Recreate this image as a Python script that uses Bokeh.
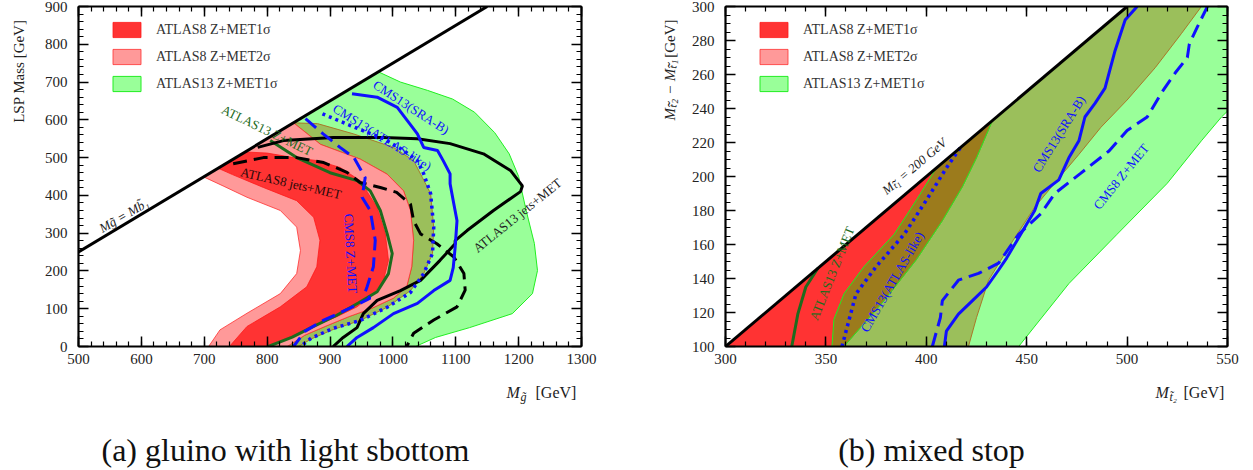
import math
from bokeh.plotting import figure
from bokeh.layouts import row, column
from bokeh.models import Range1d, LinearAxis, FixedTicker, Label, Legend, LegendItem
from bokeh.embed import file_html
from bokeh.resources import INLINE

SERIF = "Liberation Serif"

# ================= panel (a): gluino with light sbottom =================
a_diag_x = [500, 1150]
a_diag_y = [250, 900]

a_pink = [(699,449),(842,592),(885,535),(948,496),(991,456),(1017,412),(1028,360),(1033,281),
          (1030,211),(1022,158),(1001,128),(965,100),(930,79),(895,55),(860,30),(832,0),(707,0),
          (725,44),(768,88),(821,140),(847,193),(853,254),(847,316),(821,360),(768,395),(730,425)]
a_red = [(722,472),(765,515),(800,512),(842,500),(880,492),(916,474),(948,439),(975,368),(988,298),
         (993,228),(985,175),(969,140),(943,105),(911,79),(874,53),(837,26),(802,0),(740,0),(768,53),
         (821,105),(863,158),(879,211),(884,281),(874,342),(847,386),(794,421),(745,455)]
a_green = [(842,592),(977,727),(1012,700),(1055,678),(1095,655),(1130,620),(1162,566),(1185,510),
           (1200,450),(1212,360),(1225,273),(1230,201),(1222,140),(1190,87),(1122,50),(1068,24),
           (1036,0),(832,0),(860,30),(895,55),(930,79),(965,100),(1001,128),(1022,158),(1030,211),
           (1033,281),(1028,360),(1017,412),(991,456),(948,496),(885,535)]
a_olive = [(842,592),(880,590),(937,563),(1001,527),(1033,492),(1047,447),(1060,405),(1065,315),
           (1063,246),(1049,193),(1028,148),(991,104),(948,69),(905,45),(870,20),(850,0),(832,0),
           (860,30),(895,55),(930,79),(965,100),(1001,128),(1022,158),(1030,211),(1033,281),
           (1028,360),(1017,412),(991,456),(948,496),(885,535)]

a_atlas13_zmet = [(805,545),(847,500),(900,460),(943,439),(964,412),(980,360),(991,298),(999,246),
                  (993,193),(975,145),(945,115),(910,82),(870,50),(840,25),(802,0)]
a_atlas8_jets = [(746,484),(794,500),(847,500),(890,487),(927,461),(948,434),(980,421),(1006,408),
                 (1028,377),(1033,333),(1044,298),(1070,272),(1097,237),(1113,193),(1115,149),
                 (1102,105),(1065,70),(1033,35),(1022,0)]
a_atlas13_jets = [(785,527),(826,545),(905,553),(985,553),(1039,550),(1091,537),(1144,510),
                  (1187,466),(1206,425),(1203,410),(1160,360),(1118,307),(1099,280),(1099,272),
                  (1075,228),(1044,175),(1012,148),(975,122),(953,87),(943,50),(921,24),(905,0)]
a_cms13_sra = [(935,669),(975,660),(1007,633),(1023,598),(1039,563),(1049,527),(1071,519),(1080,492),
               (1091,457),(1091,431),(1096,386),(1102,333),(1099,262),(1096,209),(1091,175),
               (1065,148),(1039,114),(1001,87),(969,50),(943,24),(927,0)]
a_cms13_atl = [(888,616),(932,585),(985,550),(1017,519),(1039,492),(1049,457),(1060,405),(1065,315),
               (1063,246),(1049,193),(1028,143),(991,104),(948,69),(905,48),(870,22),(853,0)]
a_cms8 = [(861,603),(889,563),(916,527),(938,500),(956,447),(951,395),(964,360),(972,281),(969,211),
          (959,158),(955,140),(964,128),(930,100),(890,70),(860,40),(842,0)]

a_xticks = list(range(500, 1301, 100))
a_xminor = list(range(500, 1301, 20))
a_yticks = list(range(0, 901, 100))
a_yminor = list(range(0, 901, 20))

# ================= panel (b): mixed stop =================
b_diag_x = [300, 500]
b_diag_y = [100, 300]

b_red = [(300,100),(417,217),(405,205),(395,186),(384,166),(369,147),(359,131),(354,116),(353,100)]
b_green = [(353,100),(354,116),(359,131),(369,147),(384,166),(395,186),(405,205),(417,217),(500,300),
           (560,300),(560,250),(547,235),(537,221),(520,196),(495,166),(471,137),(446,100)]
b_brown = [(353,100),(354,116),(359,131),(369,147),(384,166),(395,186),(405,205),(417,217),(433,233),
           (425,211),(418,194),(408,174),(395,151),(379,127),(359,100)]
b_olive = [(359,100),(379,127),(395,151),(408,174),(418,194),(425,211),(433,233),(500,300),(537,300),
           (527,284),(514,264),(500,245),(487,229),(476,213),(466,199),(454,182),(443,162),(431,139),
           (425,117),(421,100)]

b_atlas13_zmet = [(333,100),(336,119),(340,135),(346,146)]
b_cms13_atl = [(358,100),(365,131),(375,147),(389,166),(400,186),(410,205),(417,217)]
b_cms13_sra = [(409,100),(410,109),(416,119),(423,127),(430,135),(436,145),(440,152),(450,172),
               (454,180),(457,190),(466,198),(471,211),(476,221),(479,235),(484,243),(489,252),
               (494,274),(499,292),(505,300)]
b_cms8 = [(403,100),(407,117),(408,127),(416,139),(426,143),(436,149),(446,166),(457,178),(464,190),
          (477,202),(491,215),(500,227),(510,235),(517,249),(524,261),(530,270),(531,278),(535,288),
          (540,300)]

b_xticks = list(range(300, 551, 50))
b_xminor = list(range(300, 551, 10))
b_yticks = list(range(100, 301, 20))
b_yminor = list(range(100, 301, 5))

legend_labels = ["ATLAS8 Z+MET1σ", "ATLAS8 Z+MET2σ", "ATLAS13 Z+MET1σ"]

RED, RED_L = "#ff3333", "#ff1a1a"
PINK, PINK_L = "#ff9999", "#ff3030"
GREEN, GREEN_L = "#99ff99", "#22ee22"
OLIVE, BROWN_L = "#9bbf5b", "#a8782a"
BROWN = "#9c7b1c"
DKGREEN = "#1d6b1d"
BLUE = "#1010ff"
TXT = "#222222"

FRAME_TOP, FRAME_H, BOT = 6, 340, 30
ROW_H = FRAME_TOP + FRAME_H + BOT


def xs(pts):
    return [p[0] for p in pts]


def ys(pts):
    return [p[1] for p in pts]


def style_axis(ax, ticks, minors, show, standoff=6):
    ax.ticker = FixedTicker(ticks=ticks, minor_ticks=minors)
    ax.major_tick_in = 10
    ax.major_tick_out = 0
    ax.minor_tick_in = 5
    ax.minor_tick_out = 0
    ax.major_tick_line_color = "black"
    ax.major_tick_line_width = 1.5
    ax.minor_tick_line_color = "black"
    ax.minor_tick_line_width = 1.2
    ax.axis_line_color = "black"
    ax.axis_line_width = 2.2
    ax.major_label_text_font = SERIF
    ax.major_label_text_font_size = "15px"
    ax.major_label_text_color = TXT
    ax.major_label_standoff = standoff
    if not show:
        ax.major_label_overrides = {t: "" for t in ticks}
        ax.major_label_standoff = 0
        ax.major_label_text_font_size = "1px"


def make_fig(xr, yr, ml, mr, fw, xt, xm, yt, ym):
    p = figure(x_range=Range1d(*xr), y_range=Range1d(*yr), frame_width=fw, frame_height=FRAME_H,
               min_border_left=ml, min_border_right=mr, min_border_top=FRAME_TOP,
               min_border_bottom=BOT, output_backend="svg", toolbar_location=None)
    p.outline_line_color = None
    p.xgrid.visible = False
    p.ygrid.visible = False
    style_axis(p.xaxis[0], xt, xm, True, 7)
    style_axis(p.yaxis[0], yt, ym, True, 11)
    top = LinearAxis()
    style_axis(top, xt, xm, False)
    p.add_layout(top, "above")
    right = LinearAxis()
    style_axis(right, yt, ym, False)
    p.add_layout(right, "right")
    return p


def pix_fig(w, h):
    """Blank figure whose data units are pixels from its top-left corner."""
    p = figure(x_range=Range1d(0, w), y_range=Range1d(h, 0), frame_width=w, frame_height=h,
               min_border=0, x_axis_location=None, y_axis_location=None,
               output_backend="svg", toolbar_location=None)
    p.outline_line_color = None
    p.xgrid.visible = False
    p.ygrid.visible = False
    for g in list(p.center):
        g.visible = False
    return p


def lab(p, x, y, text, size=13, color=TXT, angle=0.0, align="center",
        baseline="middle", style="normal", font=SERIF):
    p.add_layout(Label(x=x, y=y, text=text, text_font=font, text_font_size=f"{size}px",
                       text_color=color, angle=math.radians(angle), text_align=align,
                       text_baseline=baseline, text_font_style=style))


def add_legend(p, rends):
    items = [LegendItem(label=t, renderers=[r]) for t, r in zip(legend_labels, rends)]
    lg = Legend(items=items, location=(31, FRAME_H - 14 - 73), margin=0, padding=0, spacing=8,
                glyph_width=35, glyph_height=19, label_height=19, label_standoff=12,
                label_text_font=SERIF, label_text_font_size="14px", label_text_color="#333333",
                background_fill_alpha=0, border_line_alpha=0)
    p.add_layout(lg)


# ---------------- figure (a) ----------------
pa = make_fig((500, 1300), (0, 900), 40, 30, 503, a_xticks, a_xminor, a_yticks, a_yminor)

g_a = pa.patch(xs(a_green), ys(a_green), fill_color=GREEN, line_color=GREEN_L, line_width=1)
pa.patch(xs(a_olive), ys(a_olive), fill_color=OLIVE, line_color=BROWN_L, line_width=1)
pk_a = pa.patch(xs(a_pink), ys(a_pink), fill_color=PINK, line_color=PINK_L, line_width=0.8)
r_a = pa.patch(xs(a_red), ys(a_red), fill_color=RED, line_color=RED_L, line_width=0.8)

pa.line(xs(a_atlas13_zmet), ys(a_atlas13_zmet), line_color=DKGREEN, line_width=3)
pa.line(xs(a_atlas8_jets), ys(a_atlas8_jets), line_color="black", line_width=3, line_dash="14 7")
pa.line(xs(a_atlas13_jets), ys(a_atlas13_jets), line_color="black", line_width=3)
pa.line(xs(a_cms13_sra), ys(a_cms13_sra), line_color=BLUE, line_width=3)
pa.line(xs(a_cms13_atl), ys(a_cms13_atl), line_color=BLUE, line_width=3.5, line_dash="3 4")
pa.line(xs(a_cms8), ys(a_cms8), line_color=BLUE, line_width=3, line_dash="14 7")
pa.line(a_diag_x, a_diag_y, line_color="black", line_width=3)

add_legend(pa, [r_a, pk_a, g_a])

lab(pa, 572, 347, "Mg̃ = Mb̃₁", 13, TXT, 30, style="italic")
lab(pa, 800, 572, "ATLAS13 Z+MET", 13, DKGREEN, -26)
lab(pa, 838, 432, "ATLAS8 jets+MET", 13, "#2a0a0a", -13)
lab(pa, 933, 246, "CMS8 Z+MET", 13, BLUE, -87)
lab(pa, 1029, 633, "CMS13(SRA-B)", 13, BLUE, -33)
lab(pa, 983, 554, "CMS13(ATLAS-like)", 13, BLUE, -32)
lab(pa, 1198, 347, "ATLAS13 jets+MET", 13, TXT, 39)

# ---------------- figure (b) ----------------
pb = make_fig((300, 550), (100, 300), 40, 18, 502, b_xticks, b_xminor, b_yticks, b_yminor)

g_b = pb.patch(xs(b_green), ys(b_green), fill_color=GREEN, line_color=GREEN_L, line_width=1)
pb.patch(xs(b_red), ys(b_red), fill_color=RED, line_color=RED_L, line_width=0.8)
pb.patch(xs(b_olive), ys(b_olive), fill_color=OLIVE, line_color=BROWN_L, line_width=1)
pb.patch(xs(b_brown), ys(b_brown), fill_color=BROWN, line_color=GREEN_L, line_width=1)
# legend swatches for (b) (zero-area patches)
r_b = pb.patch([0, 0, 0], [0, 0, 0], fill_color=RED, line_color=RED_L, line_width=0.8)
pk_b = pb.patch([0, 0, 0], [0, 0, 0], fill_color=PINK, line_color=PINK_L, line_width=0.8)
g_b2 = pb.patch([0, 0, 0], [0, 0, 0], fill_color=GREEN, line_color=GREEN_L, line_width=1)

pb.line(xs(b_atlas13_zmet), ys(b_atlas13_zmet), line_color=DKGREEN, line_width=3)
pb.line(xs(b_cms13_atl), ys(b_cms13_atl), line_color=BLUE, line_width=3.5, line_dash="3 4")
pb.line(xs(b_cms13_sra), ys(b_cms13_sra), line_color=BLUE, line_width=3)
pb.line(xs(b_cms8), ys(b_cms8), line_color=BLUE, line_width=3, line_dash="14 7")
pb.line(b_diag_x, b_diag_y, line_color="black", line_width=3)

add_legend(pb, [r_b, pk_b, g_b2])

lab(pb, 394, 206, "Mₜ̃₁ = 200 GeV", 13, TXT, 40, style="italic")
lab(pb, 353, 143, "ATLAS13 Z+MET", 13, DKGREEN, 68)
lab(pb, 383, 138, "CMS13(ATLAS-like)", 13, BLUE, 60)
lab(pb, 466, 225, "CMS13(SRA-B)", 13, BLUE, 58)
lab(pb, 497, 200, "CMS8 Z+MET", 13, BLUE, 51)

# ---------------- label strips (pixel coordinates) ----------------
ylab_a = pix_fig(38, ROW_H)
lab(ylab_a, 18, 13, "LSP Mass [GeV]", 15, TXT, 90, align="right")

ylab_b = pix_fig(74, ROW_H)           # spans page x 611..685
lab(ylab_b, 58, 13, "[GeV]", 15, TXT, 90, align="right")
lab(ylab_b, 58, 53, "Mₜ̃₂ − Mₜ̃₁", 15, TXT, 90, align="right", style="italic")

cap = pix_fig(1245, 94)               # spans page y 376..470
lab(cap, 506, 16, "M", 16, TXT, 0, align="left", baseline="alphabetic", style="italic")
lab(cap, 520, 20, "g̃", 12, TXT, 0, align="left", baseline="alphabetic", style="italic")
lab(cap, 535, 16, "[GeV]", 16, TXT, 0, align="left", baseline="alphabetic")
lab(cap, 1155, 16, "M", 16, TXT, 0, align="left", baseline="alphabetic", style="italic")
lab(cap, 1169, 20, "t̃₂", 12, TXT, 0, align="left", baseline="alphabetic", style="italic")
lab(cap, 1183, 16, "[GeV]", 16, TXT, 0, align="left", baseline="alphabetic")
lab(cap, 285, 73, "(a) gluino with light sbottom", 32, "#111111", 0)
lab(cap, 931, 73, "(b) mixed stop", 32, "#111111", 0)

layout = column(row(ylab_a, pa, ylab_b, pb), cap)
open("out.html", "w").write(file_html(layout, INLINE))
